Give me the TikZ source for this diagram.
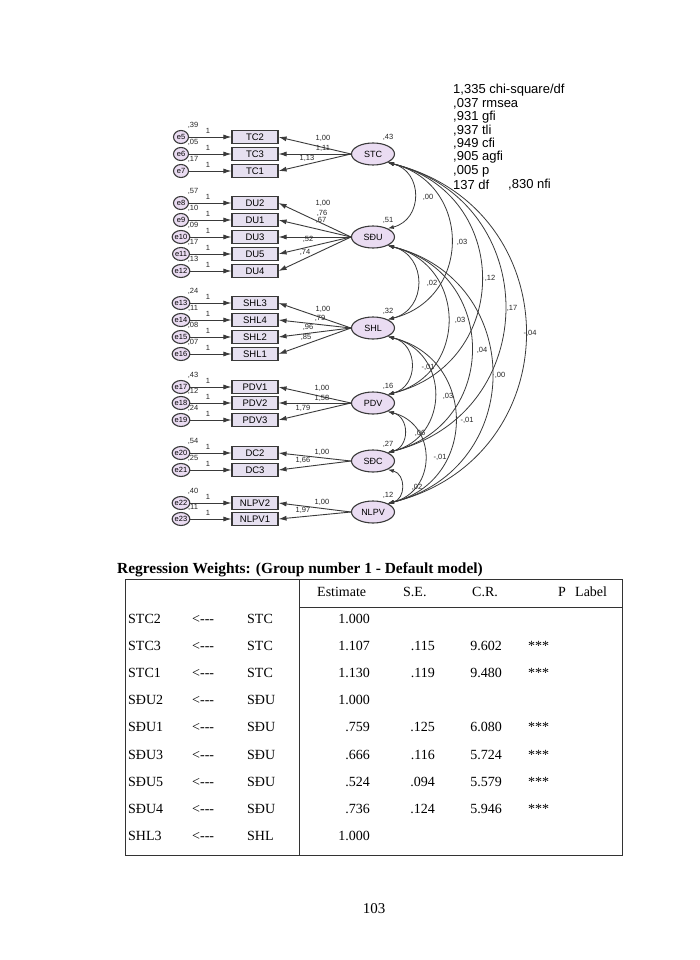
\documentclass[tikz,border=0pt]{standalone}
\usepackage{fontspec}
\setmainfont{Liberation Serif}
\newfontfamily\arial{Liberation Sans}
\usetikzlibrary{arrows.meta,shapes.geometric}
\definecolor{rectfill}{HTML}{E6E0F0}
\definecolor{ellfill}{HTML}{EADCF2}
\definecolor{lc}{HTML}{3A3A3A}
\begin{document}
\begin{tikzpicture}[x=1pt,y=1pt,
 obs/.style={draw=lc, line width=1.1pt, fill=rectfill, minimum width=46pt, minimum height=13pt, inner sep=0pt, font=\arial\fontsize{9.5}{10}\selectfont},
 lat/.style={ellipse, draw=lc, line width=1.1pt, fill=ellfill, minimum width=43pt, minimum height=22pt, inner sep=0pt, font=\arial\fontsize{9}{10}\selectfont},
 err/.style={ellipse, draw=lc, line width=1.1pt, fill=ellfill, minimum width=15pt, minimum height=13pt, inner sep=0pt, font=\arial\fontsize{7.5}{8}\selectfont},
 num/.style={inner sep=0pt, font=\arial\fontsize{7.5}{8}\selectfont, text=black!85},
 arr/.style={draw=lc, line width=0.9pt, -{Latex[length=8pt,width=5pt]}},
 cov/.style={draw=lc, line width=0.8pt, {Latex[length=6pt,width=4pt]}-{Latex[length=6pt,width=4pt]}, out=-14, in=14, looseness=1.42},
 stat/.style={anchor=west, inner sep=0pt, font=\arial\fontsize{13}{13}\selectfont},
 tb/.style={anchor=base west, inner sep=0pt, font=\fontsize{14}{14}\selectfont},
 tbr/.style={anchor=base east, inner sep=0pt, font=\fontsize{14}{14}\selectfont},
]
\useasboundingbox[fill=white] (0,0) rectangle (700,-960);

% latent variables
\node[lat] (STC) at (373,-154) {STC};
\node[lat] (SDU) at (373,-237) {SĐU};
\node[lat] (SHL) at (373,-328) {SHL};
\node[lat] (PDV) at (373,-403) {PDV};
\node[lat] (SDC) at (373,-461) {SĐC};
\node[lat] (NLPV) at (373,-512) {NLPV};
\foreach \f/\v/\y in {STC/{,43}/154, SDU/{,51}/237, SHL/{,32}/328, PDV/{,16}/403, SDC/{,27}/461, NLPV/{,12}/512}
  \node[num] (v\f) at (388,-\y+17) {\v};

% covariances
\foreach \a/\b/\l/\lx/\ly [count=\i] in {
 STC/SDU/{,00}/428/197, STC/SHL/{,03}/462/242, STC/PDV/{,12}/490/278,
 STC/SDC/{,17}/512/308, STC/NLPV/{-,04}/530/333, SDU/SHL/{,02}/432/283,
 SDU/PDV/{,03}/460/320, SDU/SDC/{,04}/482/350, SDU/NLPV/{,00}/500/375,
 SHL/PDV/{-,01}/428/367, SHL/SDC/{,03}/448/396, SHL/NLPV/{-,01}/467/420,
 PDV/SDC/{,06}/420/433, PDV/NLPV/{-,01}/440/457, SDC/NLPV/{,02}/417/487}
 {
  \draw[cov] (\a.-30) to (\b.30);
  \node[num] (c\i) at (\lx,-\ly) {\l};
 }

% indicators
\foreach \n/\y/\e/\v/\f/\l/\lx/\ly in {
 TC2/137/5/{,39}/STC/{1,00}/323/138,
 TC3/154/6/{,05}/STC/{1,11}/323/148,
 TC1/171/7/{,17}/STC/{1,13}/307/158,
 DU2/203/8/{,57}/SDU/{1,00}/323/203,
 DU1/220/9/{,10}/SDU/{,76}/322/213,
 DU3/237/10/{,09}/SDU/{,67}/321/220,
 DU5/254/11/{,17}/SDU/{,52}/308/239,
 DU4/271/12/{,13}/SDU/{,74}/305/252,
 SHL3/303/13/{,24}/SHL/{1,00}/323/309,
 SHL4/320/14/{,11}/SHL/{,79}/320/318,
 SHL2/337/15/{,08}/SHL/{,96}/308/327,
 SHL1/354/16/{,07}/SHL/{,85}/306/337,
 PDV1/387/17/{,43}/PDV/{1,00}/322/388,
 PDV2/403/18/{,12}/PDV/{1,58}/322/398,
 PDV3/420/19/{,24}/PDV/{1,79}/303/408,
 DC2/453/20/{,54}/SDC/{1,00}/322/452,
 DC3/470/21/{,25}/SDC/{1,66}/303/460,
 NLPV2/503/22/{,40}/NLPV/{1,00}/322/502,
 NLPV1/519/23/{,11}/NLPV/{1,97}/303/510}
 {
  \node[obs] (\n) at (255,-\y) {\n};
  \node[err] (e\e) at (181,-\y) {e\e};
  \draw[arr] (e\e) -- (\n);
  \draw[arr] (\f.west) -- (\n.east);
  \node[num] (o\e) at (208,-\y+6) {1};
  \node[num] (w\e) at (193,-\y+12) {\v};
  \node[num] (l\e) at (\lx,-\ly) {\l};
 }

% fit statistics
\node[stat] (s1) at (453,-90) {1,335 chi-square/df};
\node[stat] (s2) at (453,-103.5) {,037 rmsea};
\node[stat] (s3) at (453,-117) {,931 gfi};
\node[stat] (s4) at (453,-130.5) {,937 tli};
\node[stat] (s5) at (453,-144) {,949 cfi};
\node[stat] (s6) at (453,-157.5) {,905 agfi};
\node[stat] (s7) at (453,-171) {,005 p};
\node[stat] (s8) at (453,-184.5) {137 df};
\node[stat] (s9) at (508,-184.5) {,830 nfi};

% table
\node[anchor=base west, inner sep=0pt, font=\bfseries\fontsize{15.4}{15.4}\selectfont] (title) at (117,-573) {Regression Weights: (Group number 1 - Default model)};
\draw[line width=0.8pt, draw=black!80] (125,-579) rectangle (622,-855);
\draw[line width=0.8pt, draw=black!80] (299,-579) -- (299,-855);
\draw[line width=0.8pt, draw=black!80] (299,-607) -- (622,-607);
\node[tb] (h1) at (317,-596) {Estimate};
\node[tb] (h2) at (403,-596) {S.E.};
\node[tb] (h3) at (472,-596) {C.R.};
\node[tb] (h4) at (558,-596) {P};
\node[tb] (h5) at (575,-596) {Label};
\foreach \a/\b/\c/\d/\g/\p [count=\i] in {
 STC2/STC/1.000/{}/{}/{},
 STC3/STC/1.107/.115/9.602/***,
 STC1/STC/1.130/.119/9.480/***,
 SĐU2/SĐU/1.000/{}/{}/{},
 SĐU1/SĐU/.759/.125/6.080/***,
 SĐU3/SĐU/.666/.116/5.724/***,
 SĐU5/SĐU/.524/.094/5.579/***,
 SĐU4/SĐU/.736/.124/5.946/***,
 SHL3/SHL/1.000/{}/{}/{}}
 {
  \pgfmathsetmacro\yy{-623-27.2*(\i-1)}
  \node[tb] (ra\i) at (128,\yy) {\a};
  \node[tb] (rb\i) at (192,\yy) {<{-}{-}{-}};
  \node[tb] (rc\i) at (247,\yy) {\b};
  \node[tbr] (rd\i) at (370,\yy) {\c};
  \node[tbr] (re\i) at (435,\yy) {\d};
  \node[tbr] (rf\i) at (502,\yy) {\g};
  \node[tb] (rg\i) at (528,\yy) {\p};
 }
\node[inner sep=0pt, font=\fontsize{15}{15}\selectfont] (pg) at (374,-909) {103};
\end{tikzpicture}
\end{document}
